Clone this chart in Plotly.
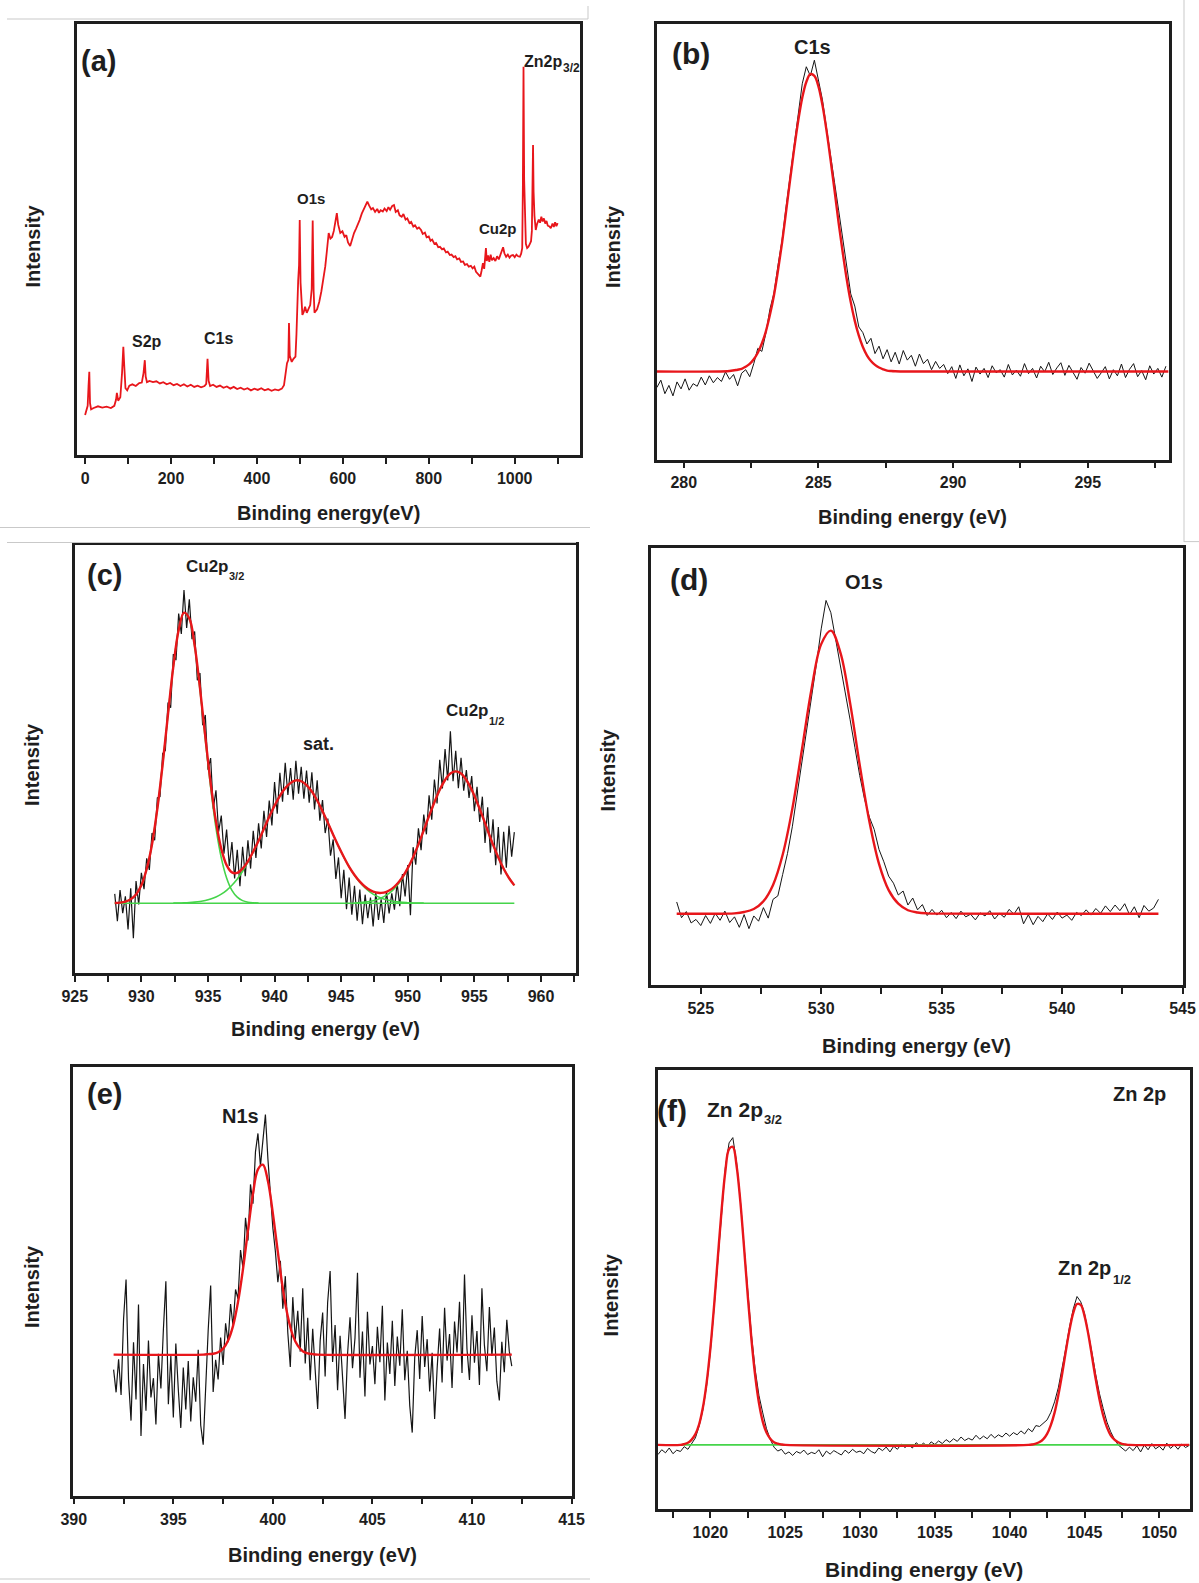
import numpy as np
import plotly.graph_objects as go

W, H = 1199, 1583
FONT = "Liberation Sans, Arial, Helvetica, sans-serif"
INK = "#1e1e1e"
RED = "#e8161b"
GREEN = "#45d44a"
BLACK = "#151515"


def grid(start, step, n):
    """Regular binding-energy grid of n channels."""
    return (start + step * np.arange(n)).tolist()


# ---------------- (a) survey spectrum ----------------
survey_be = [0, 3, 6, 8, 9.8, 11.5, 14, 20, 30, 40, 50, 60, 68, 72, 74, 77, 82, 86, 89, 91, 94, 98,
             103, 110, 118, 126, 132, 136, 139, 141, 144, 150, 158, 166, 174, 182, 190, 198, 206, 214,
             222, 230, 238, 246, 254, 262, 270, 278, 282, 285, 287.5, 291, 298, 306, 314, 322, 330, 338,
             346, 354, 362, 370, 378, 386, 394, 402, 410, 418, 426, 434, 442, 450, 458, 463, 467, 470,
             473, 474.6, 476.5, 481, 485, 489.7, 492, 494, 496, 498, 499.6, 501.5, 505.8, 509, 512, 516,
             520, 524, 527.5, 529.8, 532, 534, 540, 545, 550, 555, 559, 563, 567, 571, 575, 579, 583, 586,
             589, 594, 599, 604, 608, 612, 617, 621, 626, 631, 635, 639, 644, 648, 653, 657, 661, 666, 670,
             675, 680, 684, 688, 693, 697, 702, 706, 710, 715, 719, 723, 728, 732, 737, 741, 746, 750, 755,
             759, 764, 768, 773, 777, 782, 786, 791, 795, 800, 804, 808, 813, 817, 822, 826, 831, 835, 840,
             844, 849, 853, 858, 862, 866, 871, 875, 880, 884, 889, 893, 898, 902, 906, 910, 914, 918, 920,
             923, 926, 929, 931, 933, 935, 938, 941, 944, 947, 951, 955, 959, 963, 967, 970, 973, 976, 980,
             984, 988, 992, 996, 1000, 1004, 1008, 1012, 1015, 1017.5, 1019, 1020.5, 1022, 1024, 1026,
             1029, 1032, 1035, 1038, 1040, 1041.5, 1042.7, 1044, 1046, 1049, 1052, 1056, 1059, 1062, 1065,
             1068, 1071, 1074, 1077, 1081, 1084, 1088, 1091, 1094, 1097, 1100]
survey_int = [9.3, 10.2, 11.4, 16.0, 19.3, 12.0, 10.6, 10.9, 11.3, 11.0, 11.2, 10.9, 11.4, 12.8, 14.4,
              12.6, 13.4, 19.0, 25.1, 21.0, 15.5, 15.0, 16.1, 16.4, 16.0, 16.7, 16.8, 19.0, 22.0, 18.2,
              16.9, 17.2, 16.9, 17.1, 16.6, 16.9, 16.4, 16.7, 16.2, 16.5, 16.0, 16.4, 15.9, 16.3, 15.8,
              16.1, 15.7, 16.0, 16.5, 22.3, 17.2, 16.0, 16.3, 15.8, 16.1, 15.6, 15.9, 15.4, 15.8, 15.3,
              15.6, 15.2, 15.5, 15.0, 15.4, 15.1, 15.5, 15.0, 15.3, 14.9, 15.2, 15.0, 15.4, 16.2, 19.5,
              21.3, 22.0, 30.6, 23.0, 21.6, 22.3, 22.8, 28.0, 36.0, 40.5, 44.0, 54.5, 40.0, 32.5, 33.2,
              34.4, 33.0, 33.9, 34.8, 38.5, 54.4, 38.0, 33.0, 33.8, 35.5, 38.0, 41.0, 43.7, 47.5, 51.5,
              50.2, 50.6, 52.0, 54.0, 56.1, 53.5, 51.5, 51.9, 50.6, 51.0, 49.3, 48.5, 50.0, 51.5, 52.6,
              53.5, 54.5, 56.0, 57.0, 57.8, 58.8, 57.9, 57.0, 57.3, 56.4, 57.1, 56.2, 56.8, 56.5, 57.2,
              56.6, 57.5, 56.9, 57.8, 58.0, 56.4, 56.8, 55.6, 55.3, 55.9, 54.6, 54.9, 53.8, 54.1, 53.0,
              53.3, 52.5, 52.8, 52.2, 51.3, 51.6, 50.5, 50.7, 49.7, 50.0, 49.0, 49.2, 48.2, 48.3, 47.7,
              47.9, 47.0, 47.2, 46.4, 46.5, 45.9, 46.1, 45.4, 45.6, 44.8, 44.9, 44.1, 44.3, 43.7, 43.9,
              43.3, 43.7, 42.5, 42.0, 41.6, 41.4, 42.8, 44.5, 43.2, 45.5, 48.0, 45.0, 46.3, 44.8, 46.5,
              45.2, 45.7, 45.0, 46.1, 45.4, 46.6, 47.0, 48.2, 46.8, 46.0, 46.5, 45.8, 46.3, 46.4, 45.9,
              46.5, 46.1, 46.0, 46.7, 48.0, 62.0, 90.1, 64.0, 52.0, 49.0, 48.0, 48.3, 48.9, 49.6, 52.0,
              62.0, 71.9, 61.0, 55.5, 52.2, 53.6, 54.6, 53.9, 55.3, 54.2, 54.9, 53.7, 54.3, 53.2, 53.0,
              52.6, 53.7, 52.9, 54.0, 53.1, 53.8]

# ---------------- (b) C 1s ----------------
c1s_start, c1s_step = 279.0, 0.15
c1s_counts = [16.5, 18.2, 15.1, 17.0, 14.6, 17.8, 16.2, 18.5, 15.9, 17.4, 16.8, 18.9, 17.1, 19.2,
              17.6, 18.8, 17.9, 20.1, 18.4, 19.5, 16.9, 19.8, 20.6, 19.0,
              22.0, 25.5, 24.8, 29.0, 34.5, 38.2, 44.6, 50.3, 58.0, 64.9, 72.6, 79.0, 86.2, 90.1, 88.0,
              91.6, 87.0, 82.5, 76.1, 70.2, 63.5, 57.2, 50.8, 43.9, 38.0, 35.2, 30.4, 29.1, 26.5, 27.8,
              24.3, 26.0, 23.1, 25.2, 22.4, 24.6, 21.9, 25.0, 22.8, 23.9, 21.4, 24.2, 22.0, 23.0, 20.6,
              22.5, 20.9, 21.8, 19.7, 21.3,
              18.6, 21.7, 19.2, 20.8, 17.9, 21.2, 19.6, 20.9, 18.8, 21.5, 19.9, 20.6, 18.9, 21.8, 19.4,
              20.5, 19.1, 22.0, 19.7, 20.9, 18.7, 21.4, 20.1, 22.3, 19.5, 21.0, 22.2, 19.3, 21.6, 20.0,
              18.4, 21.1, 19.8, 22.1, 20.3, 18.6, 19.9, 21.3, 18.5, 20.6, 19.2, 21.9, 18.8, 20.7, 22.0,
              19.0, 20.4, 18.3, 21.5, 19.6, 20.9, 18.9, 21.4]
c1s_fit_be = [279.0, 281.7] + grid(282.0, 0.15, 40) + [288.3, 298.0]
c1s_fit = [20.2, 20.3,
           20.6, 20.8, 21.3, 21.96, 23.0, 24.5, 26.6, 29.4, 33.2, 37.7, 43.4, 49.7, 56.9, 64.2, 71.3,
           77.7, 83.0, 86.6, 88.4, 88.0, 85.6, 81.3, 75.5, 68.8, 61.7, 54.3, 47.6, 41.4, 36.1, 31.8,
           28.4, 25.8, 23.9, 22.6, 21.7, 21.1, 20.7, 20.4, 20.3, 20.25,
           20.2, 20.2]

# ---------------- (c) Cu 2p ----------------
cu_start, cu_step = 928.0, 0.2
cu_counts = [18.5, 12.1, 19.4, 14.0, 17.9, 10.2, 19.8, 8.1, 21.5, 16.0, 23.4, 19.6, 26.8, 24.1, 32.7,
             31.0, 40.9, 41.2, 51.3, 52.0, 63.2, 62.0, 74.5, 73.1, 84.0, 79.2, 89.5, 80.6, 87.3, 78.0,
             79.8, 68.4, 70.1, 57.9, 60.3, 47.5, 50.2, 38.4, 42.7, 33.0, 36.8, 27.9, 33.5, 25.0, 30.6,
             22.1, 28.8, 20.3, 29.5, 22.6, 31.0, 24.4, 33.2, 26.9, 35.0, 29.1, 37.9, 31.8, 40.3, 34.5,
             44.6, 37.2, 46.8, 40.0, 49.1, 41.6, 47.9, 40.5, 49.6, 41.9, 48.2, 40.7, 47.3, 39.8, 46.9,
             38.2, 45.0, 35.6, 40.4, 32.7, 36.1, 27.4, 31.2, 22.0, 27.0, 17.5, 24.1, 14.9, 22.3, 13.6,
             20.4, 12.2, 19.5, 11.4, 18.3, 12.8, 17.6, 10.9, 18.8, 12.4, 17.2, 11.7, 19.1, 13.9, 18.6,
             14.8, 21.0, 15.6, 23.1, 17.9, 25.2, 13.5, 29.4, 25.3, 33.8, 28.7, 37.0, 32.4, 41.5, 35.8,
             45.2, 39.6, 49.8, 43.1, 52.3, 45.0, 56.5, 44.8, 51.9, 43.2, 50.3, 42.6, 47.4, 40.9, 46.0,
             37.8, 43.5, 35.3, 41.2, 30.4, 38.7, 28.1, 35.9, 25.2, 34.1, 23.0, 33.0, 24.6, 34.4, 27.2,
             32.9]
cu_fit_start, cu_fit_step = 928.0, 0.4
cu_envelope = [16.35, 16.45, 16.69, 17.23, 18.37, 20.5, 24.3, 30.1, 38.4, 48.8, 60.5, 71.6, 80.15,
               84.2, 82.85, 76.55, 66.6, 55.2, 44.4, 35.4, 29.0, 25.2, 23.5, 23.4, 24.4, 26.1, 28.4,
               30.9, 33.7, 36.5, 39.1, 41.4, 43.2, 44.4, 45.0, 44.8, 43.9, 42.4, 40.3, 37.8, 35.1,
               32.3, 29.6, 27.1, 24.8, 22.9, 21.35, 20.14, 19.3, 18.82, 18.71, 18.98, 19.66, 20.79,
               22.39, 24.49, 27.07, 30.04, 33.32, 36.7, 39.9, 42.8, 45.1, 46.6, 47.1, 46.6, 45.1, 42.8,
               39.9, 36.7, 33.3, 30.0, 27.0, 24.37, 22.2, 20.47]
cu_background = 16.3
cu_p32_start = 928.0
cu_p32 = [0.05, 0.15, 0.39, 0.93, 2.07, 4.2, 8.0, 13.8, 22.1, 32.5, 44.2, 55.3, 63.8, 67.8, 66.4,
          60.0, 49.9, 38.3, 27.1, 17.6, 10.6, 5.9, 3.0, 1.41, 0.61, 0.24, 0.09, 0.03]
cu_sat_start = 932.4
cu_sat = [0.03, 0.05, 0.09, 0.15, 0.25, 0.40, 0.64, 0.98, 1.46, 2.13, 3.03, 4.21, 5.68, 7.48, 9.6,
          12.0, 14.6, 17.4, 20.2, 22.8, 25.1, 26.9, 28.1, 28.7, 28.5, 27.6, 26.1, 24.0, 21.5, 18.8,
          16.0, 13.3, 10.77, 8.5, 6.54, 4.9, 3.58, 2.55, 1.77, 1.20, 0.79, 0.51, 0.32, 0.19, 0.12,
          0.07, 0.04, 0.02]
cu_p12_start = 946.0
cu_p12 = [0.08, 0.15, 0.26, 0.45, 0.75, 1.21, 1.89, 2.85, 4.17, 5.9, 8.07, 10.7, 13.7, 17.0, 20.4,
          23.6, 26.5, 28.8, 30.3, 30.8, 30.3, 28.8, 26.5, 23.6, 20.4, 17.0, 13.7, 10.7, 8.07, 5.9, 4.17]

# ---------------- (d) O 1s ----------------
o1s_start, o1s_step = 524.0, 0.2
o1s_counts = [19.0, 15.4, 16.8, 14.2, 15.0, 13.6, 15.9, 14.1, 16.4, 14.8, 16.9, 14.3, 15.6, 13.2, 16.1,
              12.9, 15.8, 14.6, 17.7, 15.3, 19.6, 20.4, 25.3, 30.1, 36.2, 43.5, 51.7, 58.6, 66.0, 73.4,
              81.5, 88.0, 85.2, 79.1, 73.8, 66.9, 60.7, 54.3, 47.9, 42.5, 38.4, 35.6, 31.0, 28.2, 24.9,
              23.3, 20.6, 21.5, 18.3, 19.9, 17.2, 18.4, 15.9, 17.3, 16.0, 17.1, 15.4, 16.6, 15.2, 16.9,
              15.6, 16.2, 14.9, 16.5, 15.8, 17.0, 15.1, 16.4, 15.5, 17.3, 16.2, 17.9, 14.0, 16.1, 13.8,
              15.7, 14.5, 16.3, 15.0, 16.7, 15.3, 16.0, 14.8, 16.6, 15.9, 17.2, 16.0, 17.5, 16.4, 18.1,
              16.8, 18.3, 17.0, 18.6, 16.1, 17.9, 15.4, 18.2, 16.9, 17.6, 19.6]
o1s_fit_be = [524.0] + grid(525.6, 0.4, 24) + [544.0]
o1s_fit = [16.3,
           16.3, 16.32, 16.4, 16.7, 17.4, 19.15, 22.9, 29.8, 40.3, 53.9, 67.8, 78.0, 81.1, 76.0,
           64.5, 50.3, 37.4, 27.7, 21.7, 18.6, 17.1, 16.6, 16.4, 16.33,
           16.3]

# ---------------- (e) N 1s ----------------
n1s_start, n1s_step = 392.0, 0.125
n1s_counts = [29.4, 24.1, 31.8, 23.5, 41.2, 50.4, 27.0, 17.5, 35.8, 22.4, 44.6, 13.9, 30.7, 19.8, 36.2,
              22.9, 27.4, 16.6, 33.1, 25.0, 38.7, 50.0, 21.3, 32.6, 18.2, 35.5, 24.7, 15.8, 29.9, 20.1,
              31.4, 17.3, 27.6, 21.9, 34.0, 16.4, 11.9, 26.3, 38.5, 49.0, 24.2, 31.7, 27.1, 36.9, 30.5,
              40.2, 35.8, 44.7, 39.5, 48.1, 45.9, 57.3, 53.0, 64.8, 59.5, 72.6, 68.1, 80.2, 84.5, 76.9,
              83.7, 88.9, 78.6, 70.6, 62.4, 57.0, 49.8, 54.8, 43.6, 51.2, 38.0, 30.0, 46.3, 36.4, 43.1,
              33.6, 48.4, 30.8, 41.5, 26.9, 38.9, 29.3, 20.2, 36.1, 42.7, 27.8, 45.0, 52.4, 31.2, 39.8,
              24.6, 37.3, 28.1, 17.9, 33.0, 41.6, 29.7, 36.8, 52.0, 27.5, 38.3, 23.1, 42.9, 30.6, 34.9,
              26.0, 39.4, 31.1, 44.3, 22.2, 35.7, 28.4, 40.8, 25.6, 37.1, 30.3, 43.5, 26.9, 33.8, 21.0,
              14.7, 32.2, 38.6, 27.2, 41.9, 30.0, 36.5, 24.3, 33.3, 17.9, 29.6, 39.0, 26.4, 43.8, 31.5,
              37.7, 25.1, 40.6, 33.4, 45.2, 28.6, 51.6, 34.2, 27.0, 42.1, 31.0, 38.4, 25.8, 48.4, 35.1,
              29.0, 44.0, 32.6, 39.2, 26.7, 22.2, 35.9, 28.8, 41.0, 33.7, 30.2]
n1s_fit_be = [392.0, 396.5] + grid(396.75, 0.25, 22) + [402.25, 412.0]
n1s_fit = [32.9, 32.9,
           33.0, 33.1, 33.45, 34.3, 36.2, 39.6, 45.2, 52.9, 61.9, 70.4, 76.1, 77.2, 73.4, 65.8, 56.8,
           48.3, 41.8, 37.4, 35.0, 33.7, 33.2, 33.0,
           32.9, 32.9]

# ---------------- (f) Zn 2p ----------------
zn_start, zn_step = 1016.5, 0.25
zn_counts = [12.4, 13.5, 12.8, 13.9, 12.6, 13.4, 13.1, 14.2, 13.6, 15.0, 16.2, 18.9, 22.6, 28.1, 35.9,
             45.8, 57.0, 68.4, 77.8, 83.4, 84.6, 79.0, 70.5, 59.9, 49.1, 39.5, 31.6, 25.8, 21.9, 18.3,
             15.9, 14.1, 13.2, 13.6, 12.5, 13.0, 12.2, 13.1, 12.7, 13.4, 12.4, 12.9, 12.6, 13.5, 11.9,
             13.2, 12.5, 13.3, 12.8, 12.3, 13.4, 12.7, 13.6, 12.9, 13.2, 12.6, 13.8, 13.1, 12.7, 13.9,
             13.3, 14.1, 13.0, 14.3, 13.6, 14.8, 14.0, 14.6, 13.9, 15.1, 14.4, 15.0, 14.2, 15.3, 14.7,
             15.5, 14.9, 15.8, 15.2, 16.0, 15.4, 16.4, 15.6, 16.1, 15.7, 16.8, 15.9, 16.6, 16.0, 17.0,
             16.2, 16.9, 16.4, 17.3, 16.6, 17.4, 16.9, 17.8, 17.1, 18.3, 17.6, 19.0, 18.8, 19.6, 20.3,
             22.0, 24.4, 27.6, 31.8, 36.6, 41.5, 45.6, 48.4, 47.2, 44.6, 40.5, 35.6, 30.6, 26.3, 22.9,
             19.8, 17.6, 15.9, 14.6, 13.9, 13.2, 14.1, 13.3, 14.4, 13.0, 14.6, 13.5, 14.9, 13.7, 14.3,
             13.4, 15.0, 13.8, 14.6, 13.6, 14.8, 14.0, 14.5]
zn_fit_be = [1016.5, 1018.0] + grid(1018.25, 0.25, 27) + [1025.0, 1041.25] + grid(1041.5, 0.25, 26) + [1048.0, 1052.0]
zn_fit = [14.6, 14.6,
          14.8, 15.1, 15.8, 17.05, 19.3, 23.1, 28.8, 36.6, 46.4, 57.4, 68.1, 76.9, 82.0, 82.5, 78.2,
          70.1, 59.6, 48.5, 38.4, 30.2, 24.05, 19.9, 17.4, 16.0, 15.2, 14.9, 14.7,
          14.6, 14.6,
          14.7, 14.9, 15.25, 15.9, 17.1, 19.1, 21.95, 25.9, 30.65, 35.9, 40.8, 44.7, 46.7, 46.5, 44.0,
          39.9, 34.8, 29.6, 25.0, 21.3, 18.6, 16.8, 15.8, 15.2, 14.85, 14.7,
          14.6, 14.6]
zn_background = 14.6

# ---------------- figure layout (pixel boxes of each panel) ----------------
PANELS = [
    # key, (left, top, right, bottom) in px, x-range, major step, tick0, minor step, tick font size
    ("a", (76.5, 24, 580, 455), (-20, 1152), 200, 0, 100, 16),
    ("b", (656.8, 23.6, 1168.6, 459.5), (279.0, 298.0), 5, 280, 2.5, 16),
    ("c", (74.5, 545, 575.6, 973), (924.98, 962.6), 5, 925, 2.5, 16),
    ("d", (651.4, 548, 1183, 985), (522.95, 545.02), 5, 525, 2.5, 16),
    ("e", (73.4, 1067, 571.9, 1495.6), (389.98, 415.02), 5, 390, 2.5, 16),
    ("f", (658, 1070, 1190, 1509), (1016.5, 1052.05), 5, 1020, 2.5, 16),
]

fig = go.Figure()
axis_ids = {}
for i, (key, box, xr, dt, t0, mn, fs) in enumerate(PANELS):
    n = "" if i == 0 else str(i + 1)
    axis_ids[key] = ("x" + n, "y" + n)
    L, T, R, B = box
    fig.layout["xaxis" + n] = dict(
        domain=[L / W, R / W], range=list(xr), anchor="y" + n,
        tick0=t0, dtick=dt, ticks="outside", ticklen=6, tickwidth=2, tickcolor=INK,
        ticklabelstandoff=1, automargin=False,
        minor=dict(dtick=mn, ticks="outside", ticklen=6, tickwidth=2, tickcolor=INK, showgrid=False),
        showline=True, mirror=True, linecolor=INK, linewidth=2.5,
        showgrid=False, zeroline=False,
        tickfont=dict(family=FONT, size=fs, color=INK, weight="bold"),
    )
    fig.layout["yaxis" + n] = dict(
        domain=[1 - B / H, 1 - T / H], range=[0, 100], anchor="x" + n, automargin=False,
        showline=True, mirror=True, linecolor=INK, linewidth=2.5,
        showticklabels=False, ticks="", showgrid=False, zeroline=False,
    )


def line(key, x, y, color, width, shape="linear"):
    xa, ya = axis_ids[key]
    fig.add_trace(go.Scatter(x=x, y=y, mode="lines", xaxis=xa, yaxis=ya,
                             line=dict(color=color, width=width, shape=shape),
                             hoverinfo="skip", showlegend=False))


# (a)
line("a", survey_be, survey_int, RED, 1.8)

# (b)
line("b", grid(c1s_start, c1s_step, len(c1s_counts)), c1s_counts, BLACK, 1.0)
line("b", c1s_fit_be, c1s_fit, RED, 2.4, "spline")

# (c)
line("c", grid(cu_start, cu_step, len(cu_counts)), cu_counts, BLACK, 1.2)
cu_end = cu_fit_start + cu_fit_step * (len(cu_envelope) - 1)
line("c", [cu_fit_start, cu_end], [cu_background, cu_background], GREEN, 1.6)
for start, comp in ((cu_p32_start, cu_p32), (cu_sat_start, cu_sat), (cu_p12_start, cu_p12)):
    line("c", grid(start, cu_fit_step, len(comp)), (cu_background + np.array(comp)).tolist(), GREEN, 1.6, "spline")
line("c", grid(cu_fit_start, cu_fit_step, len(cu_envelope)), cu_envelope, RED, 2.4, "spline")

# (d)
line("d", grid(o1s_start, o1s_step, len(o1s_counts)), o1s_counts, BLACK, 1.0)
line("d", o1s_fit_be, o1s_fit, RED, 2.4, "spline")

# (e)
line("e", grid(n1s_start, n1s_step, len(n1s_counts)), n1s_counts, BLACK, 1.2)
line("e", n1s_fit_be, n1s_fit, RED, 2.4, "spline")

# (f)
line("f", grid(zn_start, zn_step, len(zn_counts)), zn_counts, BLACK, 1.0)
line("f", [zn_fit_be[0], zn_fit_be[-1]], [zn_background, zn_background], GREEN, 1.6)
line("f", zn_fit_be, zn_fit, RED, 2.4, "spline")

# ---------------- text ----------------
annotations = []


def text(s, px, py, size, xanchor="center", angle=0):
    annotations.append(dict(
        x=px / W, y=1 - py / H, xref="paper", yref="paper", text="<b>" + s + "</b>",
        showarrow=False, xanchor=xanchor, yanchor="middle", textangle=angle,
        font=dict(family=FONT, size=size, color=INK),
    ))


# panel letters
for s, px, py, sz in (("(a)", 98.7, 61, 29), ("(b)", 691, 54, 30), ("(c)", 104.6, 575, 29),
                      ("(d)", 689, 579, 30), ("(e)", 104.6, 1094, 29), ("(f)", 671.5, 1110, 30)):
    text(s, px, py, sz)

# peak labels (spin-orbit subscripts written as separate, smaller labels)
text("Zn2p", 522.4, 62, 16, "left")
text("3/2", 561, 68, 12, "left")
text("O1s", 310.8, 199, 15)
text("Cu2p", 498.3, 229, 15)
text("S2p", 147, 341, 16)
text("C1s", 218, 338.7, 16)
text("C1s", 812, 47.3, 20)
text("Cu2p", 184.3, 566.5, 17, "left")
text("3/2", 227, 576, 11, "left")
text("sat.", 318, 744, 18)
text("Cu2p", 444, 710.5, 17, "left")
text("1/2", 487, 721, 11, "left")
text("O1s", 863.8, 582, 20)
text("N1s", 240.8, 1116, 20)
text("Zn 2p", 705.3, 1109, 21, "left")
text("3/2", 761.5, 1119.5, 13, "left")
text("Zn 2p", 1139.5, 1093.5, 20)
text("Zn 2p", 1056, 1268, 20, "left")
text("1/2", 1110.5, 1279, 13, "left")

# axis titles
for s, px, py, sz in (("Binding energy(eV)", 328, 513, 20), ("Binding energy (eV)", 912, 517, 20),
                      ("Binding energy (eV)", 325.4, 1029, 20), ("Binding energy (eV)", 916, 1046, 20),
                      ("Binding energy (eV)", 322.4, 1555, 20), ("Binding energy (eV)", 924, 1569, 21)):
    text(s, px, py, sz)
for px, py in ((32.5, 246), (613, 247), (32, 765), (607.5, 770), (32, 1287), (611.4, 1295)):
    text("Intensity", px, py, 20, angle=-90)

# faint borders of the assembled figure sheets
EDGE = "#c9c9c9"
shapes = []
for x0, y0, x1, y1 in ((7, 19, 588, 19), (588, 6, 588, 19), (1184, 0, 1184, 542), (0, 527.5, 590, 527.5),
                       (7, 542.5, 576, 542.5), (1184, 541.6, 1199, 541.6), (0, 1579, 590, 1579)):
    shapes.append(dict(type="line", xref="paper", yref="paper", x0=x0 / W, x1=x1 / W,
                       y0=1 - y0 / H, y1=1 - y1 / H, line=dict(color=EDGE, width=1)))

fig.update_layout(
    width=W, height=H, margin=dict(l=0, r=0, t=0, b=0, autoexpand=False),
    paper_bgcolor="white", plot_bgcolor="white",
    annotations=annotations, shapes=shapes, showlegend=False,
)

fig.write_html("out.html")
